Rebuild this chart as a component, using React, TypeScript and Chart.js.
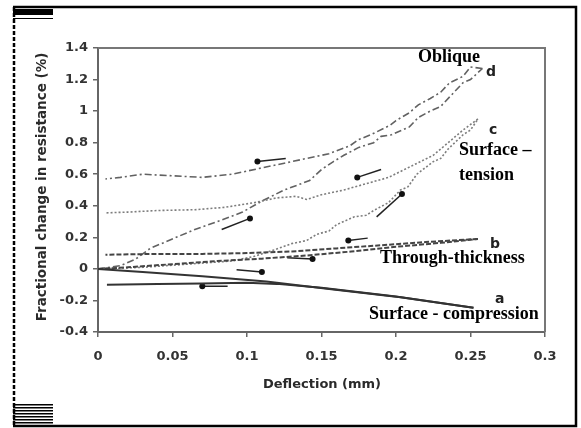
import { useEffect, useRef } from "react";
import { Chart, registerables } from "chart.js";

Chart.register(...registerables);

// Axis ranges and tick labels
const xMin = 0;
const xMax = 0.3;
const xStep = 0.05;
const yMin = -0.4;
const yMax = 1.4;
const yStep = 0.2;
const xTitle = "Deflection (mm)";
const yTitle = "Fractional change in resistance (%)";

// a: surface - compression
const aLoading: number[][] = [
  [0, 0], [0.03, -0.02], [0.07, -0.047], [0.113, -0.08], [0.158, -0.13], [0.203, -0.18], [0.252, -0.247],
];
const aUnloading: number[][] = [
  [0.252, -0.247], [0.2, -0.175], [0.15, -0.12], [0.12, -0.095], [0.1, -0.088], [0.07, -0.092], [0.04, -0.096], [0.006, -0.1],
];

// b: through-thickness
const bLoading: number[][] = [
  [0, 0], [0.02, 0.01], [0.05, 0.03], [0.08, 0.05], [0.11, 0.065], [0.14, 0.085], [0.17, 0.11], [0.2, 0.14], [0.23, 0.165], [0.255, 0.19],
];
const bUnloading: number[][] = [
  [0.255, 0.19], [0.22, 0.17], [0.19, 0.15], [0.16, 0.13], [0.13, 0.11], [0.1, 0.1], [0.07, 0.095], [0.04, 0.095], [0.005, 0.09],
];

// c: surface - tension
const cLoading: number[][] = [
  [0, 0], [0.03, 0.01], [0.06, 0.03], [0.09, 0.05], [0.105, 0.08], [0.118, 0.12], [0.13, 0.16], [0.14, 0.18], [0.147, 0.22],
  [0.155, 0.24], [0.16, 0.28], [0.172, 0.33], [0.18, 0.34], [0.185, 0.37], [0.195, 0.42], [0.203, 0.5], [0.208, 0.52],
  [0.214, 0.6], [0.225, 0.68], [0.23, 0.7], [0.235, 0.76], [0.245, 0.85], [0.25, 0.88], [0.255, 0.95],
];
const cUnloading: number[][] = [
  [0.255, 0.95], [0.245, 0.88], [0.235, 0.8], [0.225, 0.72], [0.21, 0.65], [0.195, 0.58], [0.18, 0.54], [0.165, 0.5],
  [0.15, 0.47], [0.14, 0.44], [0.133, 0.46], [0.12, 0.45], [0.105, 0.42], [0.085, 0.39], [0.065, 0.375], [0.04, 0.37],
  [0.02, 0.36], [0.005, 0.355],
];

// d: oblique
const dLoading: number[][] = [
  [0, 0], [0.015, 0.02], [0.025, 0.06], [0.035, 0.13], [0.045, 0.17], [0.065, 0.25], [0.083, 0.31], [0.097, 0.36],
  [0.11, 0.43], [0.125, 0.5], [0.142, 0.56], [0.15, 0.63], [0.158, 0.68], [0.165, 0.72], [0.175, 0.77], [0.185, 0.8],
  [0.19, 0.84], [0.197, 0.85], [0.209, 0.9], [0.215, 0.96], [0.223, 1.0], [0.23, 1.03], [0.236, 1.09], [0.245, 1.18],
  [0.25, 1.2], [0.258, 1.27],
];
const dUnloading: number[][] = [
  [0.258, 1.27], [0.25, 1.28], [0.245, 1.22], [0.236, 1.18], [0.23, 1.12], [0.223, 1.08], [0.215, 1.04], [0.209, 0.99],
  [0.2, 0.94], [0.196, 0.91], [0.183, 0.85], [0.175, 0.82], [0.169, 0.78], [0.155, 0.73], [0.14, 0.7], [0.125, 0.67],
  [0.11, 0.64], [0.09, 0.6], [0.07, 0.58], [0.05, 0.59], [0.03, 0.6], [0.015, 0.58], [0.005, 0.57],
];

// Direction arrows: [head, tail]
const arrows: number[][][] = [
  [[0.107, 0.68], [0.126, 0.7]],
  [[0.174, 0.58], [0.19, 0.63]],
  [[0.102, 0.32], [0.083, 0.25]],
  [[0.204, 0.475], [0.187, 0.33]],
  [[0.168, 0.18], [0.181, 0.195]],
  [[0.144, 0.063], [0.127, 0.07]],
  [[0.11, -0.02], [0.093, -0.006]],
  [[0.07, -0.11], [0.087, -0.11]],
];

const toPoints = (pairs: number[][]) => pairs.map(([x, y]) => ({ x, y }));

const curve = (pairs: number[][], color: string, width: number, dash: number[]) => ({
  data: toPoints(pairs),
  showLine: true,
  borderColor: color,
  borderWidth: width,
  borderDash: dash,
  pointRadius: 0,
  tension: 0,
});

const decorations = {
  id: "decorations",
  afterDraw(chart: any) {
    const { ctx, chartArea } = chart;
    const { left, right, top, bottom } = chartArea;
    ctx.save();

    // plot box (top and right edges)
    ctx.strokeStyle = "#777";
    ctx.lineWidth = 2;
    ctx.beginPath();
    ctx.moveTo(left, top);
    ctx.lineTo(right, top);
    ctx.lineTo(right, bottom);
    ctx.stroke();

    // outer page frame
    ctx.strokeStyle = "#000";
    ctx.lineWidth = 2.5;
    ctx.beginPath();
    ctx.moveTo(13, 7);
    ctx.lineTo(576, 7);
    ctx.lineTo(576, 426);
    ctx.lineTo(13, 426);
    ctx.stroke();
    ctx.setLineDash([4, 2]);
    ctx.beginPath();
    ctx.moveTo(14, 7);
    ctx.lineTo(14, 426);
    ctx.stroke();
    ctx.setLineDash([]);

    // corner marks
    ctx.fillStyle = "#000";
    ctx.fillRect(13, 9, 40, 6);
    ctx.fillRect(13, 18, 40, 1);
    for (let i = 0; i < 8; i++) ctx.fillRect(13, 404 + i * 3, 40, 1.5);

    // axis titles
    ctx.fillStyle = "#2a2a2a";
    ctx.font = "bold 13px 'DejaVu Sans'";
    ctx.textAlign = "center";
    ctx.textBaseline = "middle";
    ctx.fillText(xTitle, 322, 385);
    ctx.save();
    ctx.translate(42, 187);
    ctx.rotate(-Math.PI / 2);
    ctx.font = "bold 13.5px 'DejaVu Sans'";
    ctx.fillText(yTitle, 0, 0);
    ctx.restore();

    // curve labels
    ctx.fillStyle = "#000";
    ctx.textAlign = "left";
    ctx.textBaseline = "alphabetic";
    ctx.font = "bold 18px 'Liberation Serif'";
    ctx.fillText("Oblique", 418, 62);
    ctx.fillText("Surface \u2013", 459, 155);
    ctx.fillText("tension", 459, 180);
    ctx.fillText("Through-thickness", 380, 263);
    ctx.fillText("Surface - compression", 369, 319);

    ctx.fillStyle = "#222";
    ctx.font = "bold 14px 'DejaVu Sans'";
    ctx.fillText("d", 486, 76);
    ctx.fillText("c", 489, 134);
    ctx.fillText("b", 490, 248);
    ctx.fillText("a", 495, 303);

    ctx.restore();
  },
};

export default function App() {
  const canvasRef = useRef<HTMLCanvasElement | null>(null);

  useEffect(() => {
    const canvas = canvasRef.current;
    if (!canvas) return;

    const datasets: any[] = [
      curve(aLoading, "#333", 2, []),
      curve(aUnloading, "#333", 2, []),
      curve(bLoading, "#444", 2, [5, 2]),
      curve(bUnloading, "#444", 2, [5, 2]),
      curve(cLoading, "#7d7d7d", 1.6, [2, 2]),
      curve(cUnloading, "#7d7d7d", 1.6, [2, 2]),
      curve(dLoading, "#626262", 1.6, [7, 3, 2, 3]),
      curve(dUnloading, "#626262", 1.6, [7, 3, 2, 3]),
      ...arrows.map((a) => ({
        data: toPoints(a),
        showLine: true,
        borderColor: "#222",
        backgroundColor: "#111",
        borderWidth: 1.5,
        pointRadius: [3, 0],
        pointBorderWidth: 0,
      })),
    ];

    const chart = new Chart(canvas, {
      type: "scatter",
      data: { datasets },
      plugins: [decorations],
      options: {
        animation: false,
        responsive: false,
        events: [],
        layout: { padding: { left: 0, top: 48, right: 36, bottom: 0 } },
        plugins: { legend: { display: false }, tooltip: { enabled: false } },
        scales: {
          x: {
            type: "linear",
            min: xMin,
            max: xMax,
            afterFit: (s: any) => { s.height = 96; },
            border: { display: true, color: "#666", width: 2 },
            grid: { drawOnChartArea: false, drawTicks: true, tickLength: 5, color: "#666", lineWidth: 1.5 },
            ticks: {
              stepSize: xStep,
              padding: 12,
              color: "#333",
              font: { family: "'DejaVu Sans'", size: 13, weight: "bold" },
              callback: (v: any) => String(Number(Number(v).toFixed(2))),
              maxRotation: 0,
            },
          },
          y: {
            type: "linear",
            min: yMin,
            max: yMax,
            afterFit: (s: any) => { s.width = 98; },
            border: { display: true, color: "#666", width: 2 },
            grid: { drawOnChartArea: false, drawTicks: true, tickLength: 5, color: "#666", lineWidth: 1.5 },
            ticks: {
              stepSize: yStep,
              padding: 5,
              color: "#333",
              font: { family: "'DejaVu Sans'", size: 13, weight: "bold" },
              callback: (v: any) => String(Number(Number(v).toFixed(1))),
            },
          },
        },
      } as any,
    });

    return () => chart.destroy();
  }, []);

  return (
    <div style={{ position: "fixed", left: 0, top: 0, width: 581, height: 428, background: "#fff" }}>
      <canvas ref={canvasRef} width={581} height={428} style={{ display: "block" }} />
    </div>
  );
}
